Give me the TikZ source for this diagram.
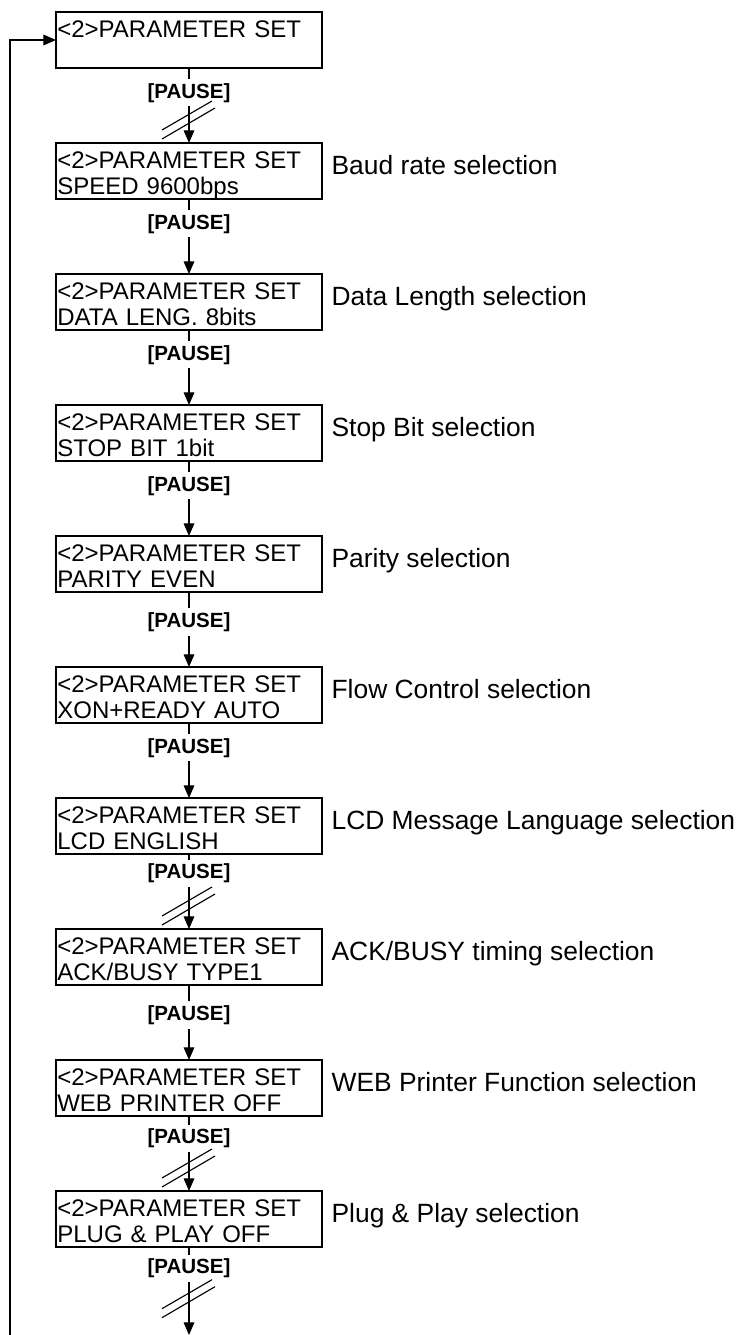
\documentclass[tikz,border=0pt]{standalone}
\usepackage{fontspec}
\setmainfont{Liberation Sans}
\usetikzlibrary{arrows.meta, positioning}
\tikzset{
  setbox/.style={rectangle, draw, line width=0.9pt, text width=197.5pt,
                 inner xsep=1pt, inner ysep=0pt, outer sep=0pt, align=left,
                 text height=19.2pt, text depth=22.8pt,
                 font=\fontsize{18pt}{19.5pt}\selectfont},
  desc/.style={inner sep=0pt, text height=12pt, text depth=7.5pt,
               font=\fontsize{19.8pt}{22pt}\selectfont},
  pause/.style={fill=white, inner sep=3pt, pos=0.33,
                font=\fontsize{15.4pt}{17pt}\selectfont\bfseries},
  flow/.style={-{Triangle[length=9.5pt, width=8pt]}, line width=0.85pt},
  brk/.style={line width=0.85pt},
}
\begin{document}
\begin{tikzpicture}
  \useasboundingbox (0,0) rectangle (555pt,-1001.25pt);
  \node[setbox] (b0) at (141.75pt,-30pt) {<2>PARAMETER SET};
  \node[setbox, below=56.25pt of b0] (b1) {<2>PARAMETER SET\\SPEED 9600bps};
  \node[setbox, below=56.25pt of b1] (b2) {<2>PARAMETER SET\\DATA LENG. 8bits};
  \node[setbox, below=56.25pt of b2] (b3) {<2>PARAMETER SET\\STOP BIT 1bit};
  \node[setbox, below=56.25pt of b3] (b4) {<2>PARAMETER SET\\PARITY EVEN};
  \node[setbox, below=56.25pt of b4] (b5) {<2>PARAMETER SET\\XON+READY AUTO};
  \node[setbox, below=56.25pt of b5] (b6) {<2>PARAMETER SET\\LCD ENGLISH};
  \node[setbox, below=56.25pt of b6] (b7) {<2>PARAMETER SET\\ACK/BUSY TYPE1};
  \node[setbox, below=56.25pt of b7] (b8) {<2>PARAMETER SET\\WEB PRINTER OFF};
  \node[setbox, below=56.25pt of b8] (b9) {<2>PARAMETER SET\\PLUG \& PLAY OFF};

  \node[desc, right=7pt of b1] (d1) {Baud rate selection};
  \node[desc, right=7pt of b2] (d2) {Data Length selection};
  \node[desc, right=7pt of b3] (d3) {Stop Bit selection};
  \node[desc, right=7pt of b4] (d4) {Parity selection};
  \node[desc, right=7pt of b5] (d5) {Flow Control selection};
  \node[desc, right=7pt of b6] (d6) {LCD Message Language selection};
  \node[desc, right=7pt of b7] (d7) {ACK/BUSY timing selection};
  \node[desc, right=7pt of b8] (d8) {WEB Printer Function selection};
  \node[desc, right=7pt of b9] (d9) {Plug \& Play selection};

  \coordinate (ret) at (7.5pt,-1001.25pt);
  \coordinate (tail) at (141.75pt,-1001.25pt);

  % PAUSE steps
  \draw[flow] (b0) -- node[pause] {[PAUSE]} (b1);
  \draw[flow] (b1) -- node[pause] {[PAUSE]} (b2);
  \draw[flow] (b2) -- node[pause] {[PAUSE]} (b3);
  \draw[flow] (b3) -- node[pause] {[PAUSE]} (b4);
  \draw[flow] (b4) -- node[pause, pos=0.4] {[PAUSE]} (b5);
  \draw[flow] (b5) -- node[pause] {[PAUSE]} (b6);
  \draw[flow] (b6) -- node[pause, pos=0.26] {[PAUSE]} (b7);
  \draw[flow] (b7) -- node[pause, pos=0.4] {[PAUSE]} (b8);
  \draw[flow] (b8) -- node[pause, pos=0.3] {[PAUSE]} (b9);
  \draw[flow] (b9) -- node[pause, pos=0.24] {[PAUSE]} (tail);

  % back to the top
  \draw[flow] (ret) |- (b0.west);

  % break marks
  \foreach \t/\dy in {b1.north/0pt, b7.north/0pt, b9.north/0pt, tail/10pt} {
    \draw[brk] ([shift={(-20.25pt,9.75pt+\dy)}]\t) -- ++(37.5pt,21.75pt);
    \draw[brk] ([shift={(-20.25pt,3pt+\dy)}]\t) -- ++(39.75pt,23.25pt);
  }
\end{tikzpicture}
\end{document}
